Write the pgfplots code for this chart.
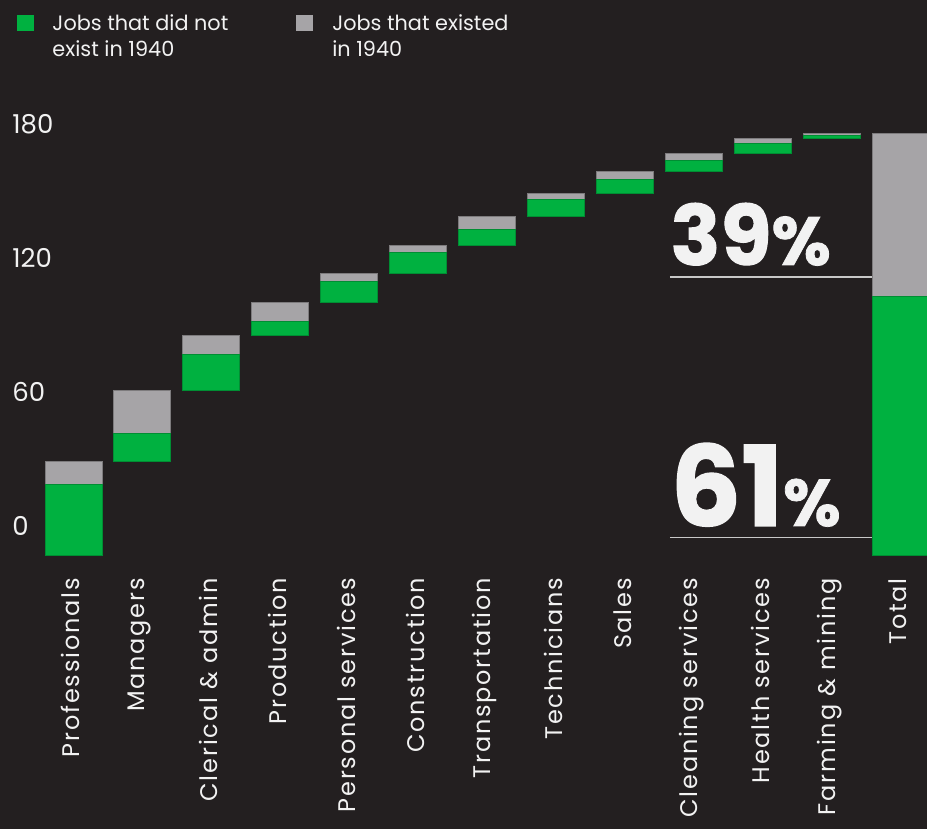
\documentclass[border=0pt]{standalone}
\usepackage{fontspec}
\setmainfont{Poppins}
\newfontfamily\spaced{Poppins}[LetterSpace=7.5]
\usepackage{pgfplots}
\usepackage{pgfplotstable}
\pgfplotsset{compat=1.18}

\definecolor{bg}{HTML}{231F20}
\definecolor{newjobs}{HTML}{00B140}
\definecolor{oldjobs}{HTML}{A6A4A7}
\definecolor{ink}{HTML}{F2F2F2}
\definecolor{rulegray}{HTML}{C8C8C8}

% Employment by occupation: each bar floats on the running total (base)
\pgfplotstableread{
idx base  new   old
0   0     31.7  10.4
1   42.1  12.4  19.7
2   74.2  16.0  8.5
3   98.7  6.4   8.1
4   113.2 9.7   3.6
5   126.5 9.2   3.4
6   139.1 6.8   5.8
7   151.7 7.9   2.8
8   162.4 6.0   3.6
9   172.0 4.8   3.4
10  180.2 4.5   2.0
11  186.7 1.7   0.8
12  0     115.9 73.3
}\jobs

\begin{document}
\begin{tikzpicture}
\path[use as bounding box, fill=bg] (0pt,0pt) rectangle (463.5pt,414.5pt);
\begin{axis}[
  at={(0pt,136.65pt)}, anchor=south west,
  scale only axis, width=463.5pt, height=223.3pt,
  xmin=-1.0657, xmax=12.375, ymin=0, ymax=200,
  ybar stacked, bar width=28.5pt,
  axis line style={draw=none}, major tick length=0pt,
  /pgf/number format/assume math mode=true,
  xtick={0,...,12},
  xticklabels={Professionals, Managers, Clerical \& admin, Production,
    Personal services, Construction, Transportation, Technicians, Sales,
    Cleaning services, Health services, Farming \& mining, Total},
  xticklabel style={xshift=-1.5pt, rotate=90, anchor=east, inner sep=0pt,
    font=\spaced\fontsize{12}{14}\selectfont, text=ink},
  xticklabel shift=11pt,
  ytick={0,60,120,180},
  yticklabel style={anchor=west, inner sep=0pt, xshift=6pt, yshift=14.75pt,
    font=\fontsize{13}{15}\selectfont, text=ink},
  legend columns=2,
  legend style={at={(axis description cs:0.018,1.211)}, anchor=north west,
    draw=none, fill=none, inner sep=0pt, outer sep=0pt, text=ink,
    font=\fontsize{10.4}{12.7}\selectfont,
    cells={anchor=base west}, nodes={inner sep=0pt},
    column sep=0pt,
    /tikz/every odd column/.append style={column sep=9.4pt}},
]
\addplot[draw=none, fill=none, forget plot] table[x=idx, y=base] {\jobs};
\addplot[fill=newjobs, draw=newjobs!80!black, line width=0.5pt,
  legend image code/.code={\fill[newjobs] (0pt,0pt) rectangle (8pt,7.6pt);}]
  table[x=idx, y=new] {\jobs};
\addlegendentry{\parbox[t]{122pt}{Jobs that did not\\exist in 1940}}
\addplot[fill=oldjobs, draw=oldjobs!75!black, line width=0.5pt,
  legend image code/.code={\fill[oldjobs] (0pt,0pt) rectangle (8pt,7.6pt);}]
  table[x=idx, y=old] {\jobs};
\addlegendentry{\parbox[t]{110pt}{Jobs that existed\\in 1940}}

% shares of the total bar
\draw[rulegray, line width=0.75pt] (axis cs:8.648,124.7) -- (axis cs:12.11,124.7);
\draw[rulegray, line width=0.75pt] (axis cs:8.648,8.24) -- (axis cs:12.11,8.24);
\node[anchor=base west, inner sep=0pt, text=ink, font=\bfseries\addfontfeatures{FakeBold=1.2}]
  at (axis cs:8.648,130.2) {\fontsize{41.5}{42}\selectfont 39\fontsize{34}{34}\selectfont\%};
\node[anchor=base west, inner sep=0pt, text=ink, font=\bfseries\addfontfeatures{FakeBold=1.2}]
  at (axis cs:8.648,13.3) {\fontsize{55.7}{56}\selectfont 61\fontsize{33}{33}\selectfont\%};
\end{axis}
\end{tikzpicture}
\end{document}
